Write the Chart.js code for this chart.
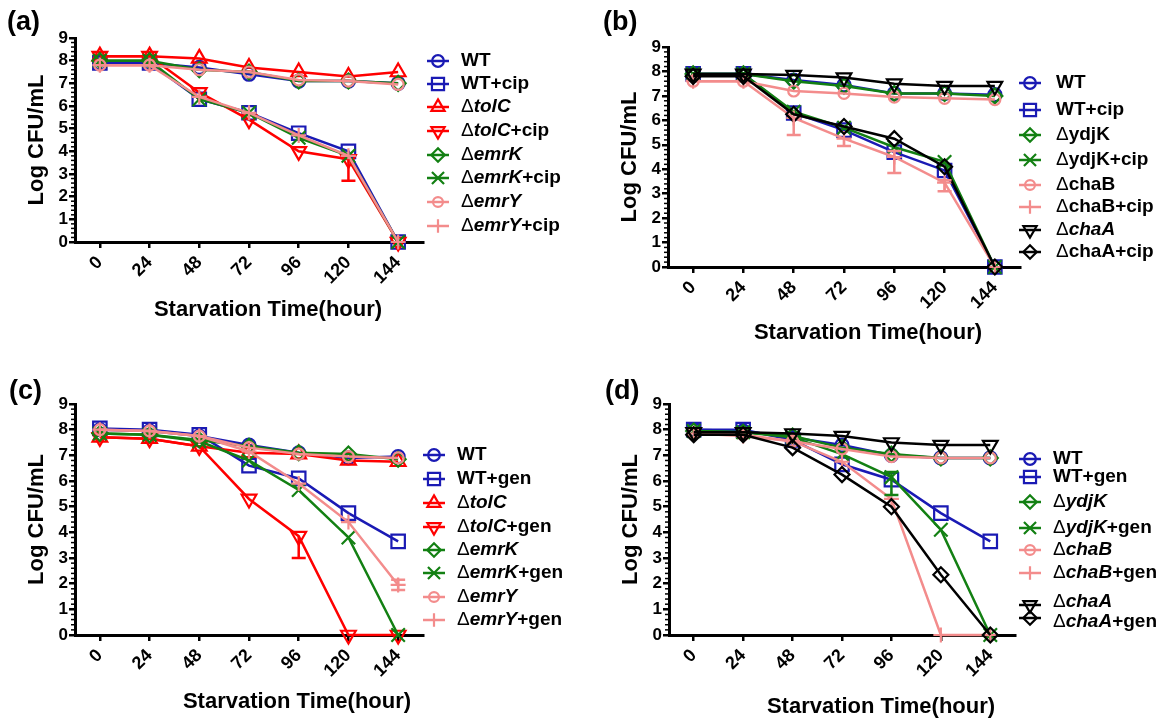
<!DOCTYPE html>
<html>
<head>
<meta charset="utf-8">
<script src="https://cdn.jsdelivr.net/npm/chart.js@4.4.1/dist/chart.umd.min.js"></script>
<style>
  body { margin: 0; background: #fff; width: 1163px; height: 718px; position: relative; overflow: hidden; }
  canvas { position: absolute; }
</style>
</head>
<body>
<canvas id="ca" width="580" height="345" style="left:0;top:0"></canvas>
<canvas id="cb" width="583" height="345" style="left:580px;top:0"></canvas>
<canvas id="cc" width="580" height="373" style="left:0;top:345px"></canvas>
<canvas id="cd" width="583" height="373" style="left:580px;top:345px"></canvas>
<script>
/* data */
const hours = [0, 24, 48, 72, 96, 120, 144];
const yTicks = [0, 1, 2, 3, 4, 5, 6, 7, 8, 9];

// (a) ciprofloxacin, efflux pumps
const aWT      = [7.9, 7.9, 7.7, 7.4, 7.1, 7.1, 7.0];
const aWTcip   = [7.9, 7.9, 6.3, 5.7, 4.8, 4.0, 0];
const aTolC    = [8.2, 8.2, 8.1, 7.7, 7.5, 7.3, 7.5];
const aTolCcip = [8.2, 8.2, 6.6, 5.4, 4.0, 3.65, 0];
const aEmrK    = [8.0, 8.0, 7.6, 7.5, 7.1, 7.1, 7.0];
const aEmrKcip = [8.0, 8.0, 6.3, 5.7, 4.6, 3.8, 0];
const aEmrY    = [7.8, 7.8, 7.6, 7.5, 7.15, 7.1, 6.95];
const aEmrYcip = [7.8, 7.8, 6.4, 5.7, 4.7, 3.8, 0];
const aTolCcipLo = [0, 0, 0, 0, 0, 0.95, 0];

// (b) ciprofloxacin, ydjK / cha
const bWT      = [7.9, 7.9, 7.65, 7.45, 7.1, 7.1, 7.05];
const bWTcip   = [7.9, 7.9, 6.3, 5.6, 4.7, 3.95, 0];
const bYdjK    = [7.9, 7.9, 7.6, 7.4, 7.1, 7.1, 7.0];
const bYdjKcip = [7.9, 7.9, 6.35, 5.7, 4.9, 4.3, 0];
const bChaB    = [7.6, 7.6, 7.2, 7.1, 6.95, 6.9, 6.85];
const bChaBcip = [7.6, 7.6, 6.1, 5.25, 4.5, 3.45, 0];
const bChaA    = [7.9, 7.9, 7.85, 7.75, 7.5, 7.4, 7.4];
const bChaAcip = [7.8, 7.8, 6.25, 5.75, 5.25, 4.1, 0];
const bChaBcipLo = [0, 0, 0.7, 0.3, 0.65, 0.35, 0];
const bChaBcipHi = [0, 0, 0, 0, 0.25, 0.1, 0];

// (c) gentamicin, efflux pumps
const cWT      = [8.0, 7.95, 7.75, 7.4, 7.1, 6.9, 6.95];
const cWTgen   = [8.05, 8.0, 7.8, 6.6, 6.1, 4.75, 3.65];
const cTolC    = [7.7, 7.65, 7.35, 7.1, 7.05, 6.8, 6.75];
const cTolCgen = [7.7, 7.65, 7.35, 5.3, 3.85, 0, 0];
const cEmrK    = [7.85, 7.8, 7.6, 7.35, 7.1, 7.05, 6.85];
const cEmrKgen = [7.85, 7.8, 7.55, 6.8, 5.65, 3.8, 0];
const cEmrY    = [8.0, 7.95, 7.75, 7.3, 7.05, 6.95, 6.9];
const cEmrYgen = [8.0, 7.95, 7.75, 7.15, 5.9, 4.4, 1.95];
const cTolCgenLo = [0, 0, 0, 0, 0.85, 0, 0];
const cEmrYgenLo = [0, 0, 0, 0, 0, 0, 0.2];
const cEmrYgenHi = [0, 0, 0, 0, 0, 0, 0.2];

// (d) gentamicin, ydjK / cha
const dWT      = [8.0, 7.95, 7.7, 7.4, 7.0, 6.9, 6.9];
const dWTgen   = [8.0, 8.0, 7.6, 6.65, 6.05, 4.75, 3.65];
const dYdjK    = [7.95, 7.9, 7.75, 7.3, 7.05, 6.9, 6.9];
const dYdjKgen = [7.95, 7.9, 7.7, 7.05, 6.15, 4.1, 0];
const dChaB    = [7.85, 7.8, 7.55, 7.25, 6.95, 6.9, 6.9];
const dChaBgen = [7.85, 7.75, 7.55, 6.75, 5.3, 0, 0];
const dChaA    = [7.9, 7.9, 7.85, 7.75, 7.5, 7.4, 7.4];
const dChaAgen = [7.8, 7.8, 7.3, 6.25, 5.0, 2.35, 0];
const dYdjKgenLo = [0, 0, 0, 0, 0.7, 0, 0];
const dYdjKgenHi = [0, 0, 0, 0, 0.2, 0, 0];

// legend labels, _x_ = italic
const aLabels = ['WT', 'WT+cip', 'Δ_tolC_', 'Δ_tolC_+cip', 'Δ_emrK_', 'Δ_emrK_+cip', 'Δ_emrY_', 'Δ_emrY_+cip'];
const bLabels = ['WT', 'WT+cip', 'ΔydjK', 'ΔydjK+cip', 'ΔchaB', 'ΔchaB+cip', 'Δ_chaA_', 'ΔchaA+cip'];
const cLabels = ['WT', 'WT+gen', 'Δ_tolC_', 'Δ_tolC_+gen', 'Δ_emrK_', 'Δ_emrK_+gen', 'Δ_emrY_', 'Δ_emrY_+gen'];
const dLabels = ['WT', 'WT+gen', 'Δ_ydjK_', 'Δ_ydjK_+gen', 'Δ_chaB_', 'Δ_chaB_+gen', 'Δ_chaA_', 'Δ_chaA_+gen'];

/* styles */
const BLUE = '#1a1ab4', RED = '#ff0000', GREEN = '#138013', PINK = '#f38c8c', BLACK = '#000000';
const FONT = '"Liberation Sans", Arial, sans-serif';
const mk = {
  circle:  { pointStyle: 'circle', radius: 6.5 },
  small:   { pointStyle: 'circle', radius: 5.5 },
  square:  { pointStyle: 'rect', radius: 9.5 },
  up:      { pointStyle: 'triangle', radius: 8.5 },
  down:    { pointStyle: 'triangle', radius: 8.5, rotation: 180 },
  diamond: { pointStyle: 'rectRot', radius: 7.5 },
  x:       { pointStyle: 'crossRot', radius: 9.5 },
  plus:    { pointStyle: 'cross', radius: 7.5 }
};

function ds(label, values, color, m, lo, hi) {
  return {
    label: label,
    data: hours.map((h, i) => ({ x: h, y: values[i] })),
    borderColor: color,
    backgroundColor: 'rgba(0,0,0,0)',
    pointBorderColor: color,
    pointBackgroundColor: 'rgba(0,0,0,0)',
    borderWidth: 2.5,
    pointBorderWidth: 2.2,
    pointStyle: m.pointStyle,
    pointRadius: m.radius,
    pointHoverRadius: m.radius,
    pointRotation: m.rotation || 0,
    tension: 0,
    clip: false,
    errLo: lo,
    errHi: hi,
    mk: m
  };
}

/* error bars */
const errorBars = {
  id: 'errorBars',
  afterDatasetsDraw(chart) {
    const ctx = chart.ctx, ys = chart.scales.y, xs = chart.scales.x;
    chart.data.datasets.forEach(d => {
      if (!d.errLo && !d.errHi) return;
      ctx.save();
      ctx.strokeStyle = d.borderColor;
      ctx.lineWidth = 2.5;
      d.data.forEach((p, i) => {
        const lo = d.errLo ? d.errLo[i] : 0, hi = d.errHi ? d.errHi[i] : 0;
        if (!lo && !hi) return;
        const px = xs.getPixelForValue(p.x);
        const y1 = ys.getPixelForValue(p.y - lo), y2 = ys.getPixelForValue(p.y + hi);
        ctx.beginPath();
        ctx.moveTo(px, y1); ctx.lineTo(px, y2);
        if (lo) { ctx.moveTo(px - 7, y1); ctx.lineTo(px + 7, y1); }
        if (hi) { ctx.moveTo(px - 7, y2); ctx.lineTo(px + 7, y2); }
        ctx.stroke();
      });
      ctx.restore();
    });
  }
};

/* minor ticks, panel label, x title, legend */
const decor = {
  id: 'decor',
  afterDraw(chart, args, o) {
    const ctx = chart.ctx, ys = chart.scales.y;
    const ax = chart.chartArea.left;
    ctx.save();
    ctx.strokeStyle = BLACK;
    ctx.lineWidth = 1.5;
    for (let v = 0; v < 9; v++) {
      for (let k = 1; k < 5; k++) {
        const py = ys.getPixelForValue(v + k * 0.2);
        ctx.beginPath(); ctx.moveTo(ax - 4, py); ctx.lineTo(ax, py); ctx.stroke();
      }
    }
    ctx.fillStyle = BLACK;
    ctx.textBaseline = 'middle';
    ctx.font = 'bold 27px ' + FONT;
    ctx.textAlign = 'left';
    ctx.fillText(o.label, o.lab[0], o.lab[1]);
    ctx.font = 'bold 22px ' + FONT;
    ctx.textAlign = 'center';
    ctx.fillText('Starvation Time(hour)', o.title[0], o.title[1]);

    ctx.textAlign = 'left';
    const L = o.leg;
    chart.data.datasets.forEach((d, i) => {
      const my = L.my ? L.my[i] : L.ty[i];
      ctx.strokeStyle = d.borderColor;
      ctx.lineWidth = 2.5;
      ctx.beginPath(); ctx.moveTo(L.mx - 11, my); ctx.lineTo(L.mx + 11, my); ctx.stroke();
      ctx.fillStyle = 'rgba(0,0,0,0)';
      ctx.lineWidth = 2.2;
      Chart.helpers.drawPoint(ctx, { pointStyle: d.mk.pointStyle, radius: d.mk.radius * 0.9, rotation: d.mk.rotation || 0, borderWidth: 2.2 }, L.mx, my);
      ctx.fillStyle = BLACK;
      let x = L.tx;
      const parts = d.label.split('_');
      parts.forEach((s, j) => {
        if (!s) return;
        let txt = s;
        if (txt.charAt(0) === 'Δ') {
          ctx.font = '19px ' + FONT;
          ctx.fillText('Δ', x, L.ty[i]);
          x += ctx.measureText('Δ').width;
          txt = txt.slice(1);
        }
        ctx.font = (j % 2 ? 'italic ' : '') + 'bold 19px ' + FONT;
        ctx.fillText(txt, x, L.ty[i]);
        x += ctx.measureText(txt).width;
      });
    });
    ctx.restore();
  }
};

function makeChart(id, w, h, area, sets, deco) {
  const [L, R, T, B] = area;
  const YW = 55, XH = 60;
  new Chart(document.getElementById(id), {
    type: 'line',
    data: { datasets: sets.map((s, i) => Object.assign(s, { order: -i })) },
    options: {
      responsive: false,
      animation: false,
      devicePixelRatio: 1,
      layout: { padding: { left: L - YW, right: w - R, top: T, bottom: h - B - XH } },
      plugins: { legend: { display: false }, tooltip: { enabled: false }, decor: deco },
      scales: {
        x: {
          type: 'linear', min: -12, max: 156,
          afterBuildTicks: s => { s.ticks = hours.map(v => ({ value: v })); },
          afterFit: s => { s.height = XH; },
          border: { display: true, color: BLACK, width: 3 },
          grid: { display: true, drawOnChartArea: false, drawTicks: true, tickLength: 6, lineWidth: 2.5, color: BLACK },
          ticks: { color: BLACK, autoSkip: false, font: { family: FONT, size: 18, weight: 'bold' }, minRotation: 45, maxRotation: 45, padding: 4 }
        },
        y: {
          min: 0, max: 9,
          afterBuildTicks: s => { s.ticks = yTicks.map(v => ({ value: v })); },
          afterFit: s => { s.width = YW; },
          border: { display: true, color: BLACK, width: 3 },
          grid: { display: true, drawOnChartArea: false, drawTicks: true, tickLength: 6, lineWidth: 2.5, color: BLACK },
          ticks: { color: BLACK, autoSkip: false, font: { family: FONT, size: 17, weight: 'bold' }, padding: 1 },
          title: { display: true, text: 'Log CFU/mL', color: BLACK, font: { family: FONT, size: 22, weight: 'bold' }, padding: { top: 4, bottom: 0 } }
        }
      }
    },
    plugins: [errorBars, decor]
  });
}

makeChart('ca', 580, 345, [75, 423, 38, 242], [
  ds(aLabels[0], aWT, BLUE, mk.circle),
  ds(aLabels[1], aWTcip, BLUE, mk.square),
  ds(aLabels[2], aTolC, RED, mk.up),
  ds(aLabels[3], aTolCcip, RED, mk.down, aTolCcipLo),
  ds(aLabels[4], aEmrK, GREEN, mk.diamond),
  ds(aLabels[5], aEmrKcip, GREEN, mk.x),
  ds(aLabels[6], aEmrY, PINK, mk.small),
  ds(aLabels[7], aEmrYcip, PINK, mk.plus)
], { label: '(a)', lab: [7, 23], title: [268, 310],
     leg: { mx: 438, tx: 461, ty: [61, 84, 107, 131, 155, 178, 202, 226] } });

makeChart('cb', 583, 345, [88, 440, 47, 267], [
  ds(bLabels[0], bWT, BLUE, mk.circle),
  ds(bLabels[1], bWTcip, BLUE, mk.square),
  ds(bLabels[2], bYdjK, GREEN, mk.diamond),
  ds(bLabels[3], bYdjKcip, GREEN, mk.x),
  ds(bLabels[4], bChaB, PINK, mk.small),
  ds(bLabels[5], bChaBcip, PINK, mk.plus, bChaBcipLo, bChaBcipHi),
  ds(bLabels[6], bChaA, BLACK, mk.down),
  ds(bLabels[7], bChaAcip, BLACK, mk.diamond)
], { label: '(b)', lab: [23, 23], title: [288, 333],
     leg: { mx: 450, tx: 476, ty: [83, 110, 135, 160, 185, 207, 230, 252] } });

makeChart('cc', 580, 373, [75, 423, 59, 290], [
  ds(cLabels[0], cWT, BLUE, mk.circle),
  ds(cLabels[1], cWTgen, BLUE, mk.square),
  ds(cLabels[2], cTolC, RED, mk.up),
  ds(cLabels[3], cTolCgen, RED, mk.down, cTolCgenLo),
  ds(cLabels[4], cEmrK, GREEN, mk.diamond),
  ds(cLabels[5], cEmrKgen, GREEN, mk.x),
  ds(cLabels[6], cEmrY, PINK, mk.small),
  ds(cLabels[7], cEmrYgen, PINK, mk.plus, cEmrYgenLo, cEmrYgenHi)
], { label: '(c)', lab: [9, 47], title: [297, 357],
     leg: { mx: 434, tx: 457, ty: [110, 134, 158, 182, 205, 228, 252, 275] } });

makeChart('cd', 583, 373, [89, 435, 59, 290], [
  ds(dLabels[0], dWT, BLUE, mk.circle),
  ds(dLabels[1], dWTgen, BLUE, mk.square),
  ds(dLabels[2], dYdjK, GREEN, mk.diamond),
  ds(dLabels[3], dYdjKgen, GREEN, mk.x, dYdjKgenLo, dYdjKgenHi),
  ds(dLabels[4], dChaB, PINK, mk.small),
  ds(dLabels[5], dChaBgen, PINK, mk.plus),
  ds(dLabels[6], dChaA, BLACK, mk.down),
  ds(dLabels[7], dChaAgen, BLACK, mk.diamond)
], { label: '(d)', lab: [25, 47], title: [301, 362],
     leg: { mx: 450, tx: 473, ty: [114, 132, 157, 183, 205, 228, 257, 277], my: [114, 132, 157, 183, 205, 228, 260, 273] } });
</script>
</body>
</html>
